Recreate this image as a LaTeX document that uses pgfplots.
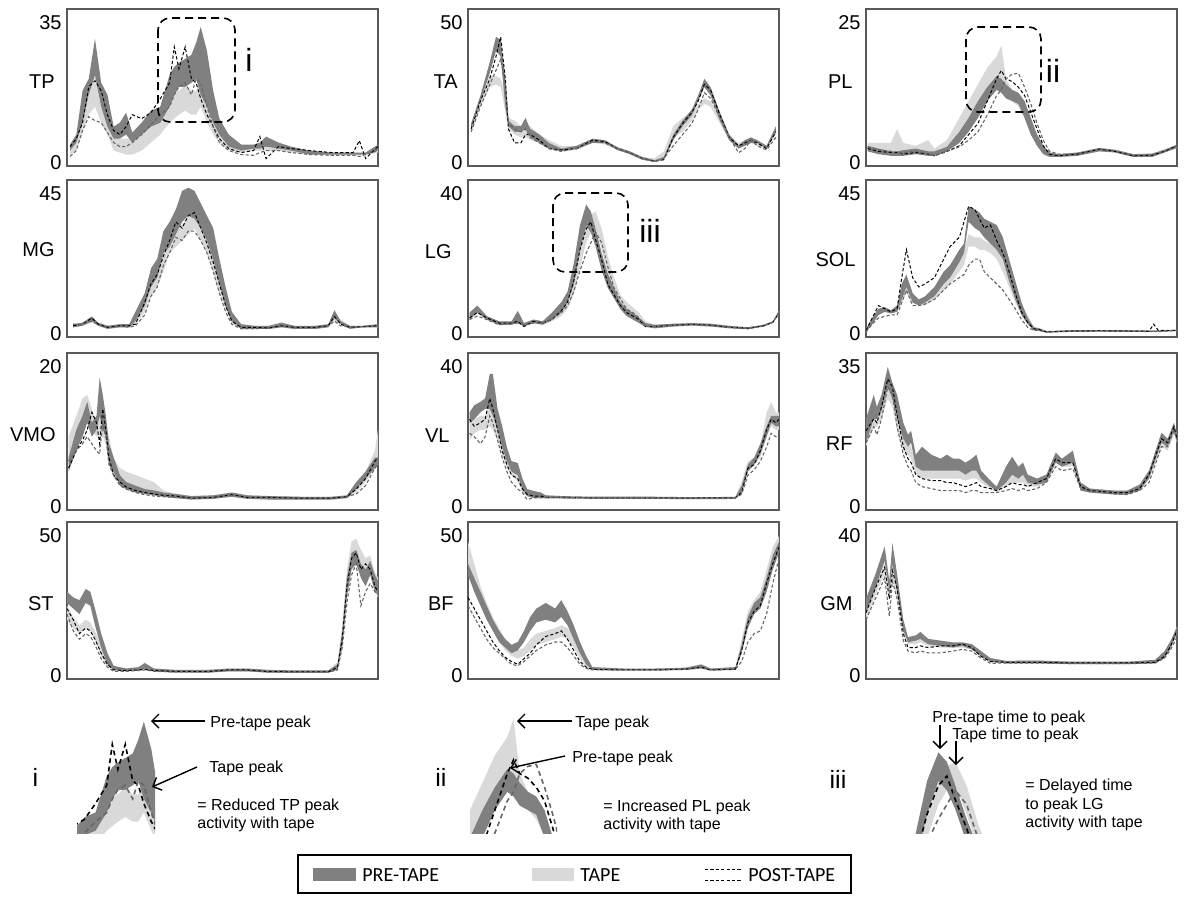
\documentclass[border=0pt]{standalone}
\usepackage{fontspec}
\setmainfont{Liberation Sans}
\newfontfamily\legfont{Carlito}
\usepackage{pgfplots}
\pgfplotsset{compat=1.18}
\usepackage{pgfplotstable}
\usepgfplotslibrary{fillbetween}
\usetikzlibrary{arrows.meta}
\definecolor{precol}{gray}{0.50}
\definecolor{tapecol}{gray}{0.85}

\pgfplotsset{
 panel/.style={scale only axis, width=155.5pt, height=78.5pt, anchor=north west,
   xmin=0, xmax=100, xtick=\empty, major tick length=0pt,
   axis line style={black!65, line width=0.6pt},
   yticklabel style={font=\fontsize{10}{11}\selectfont, inner xsep=2.5pt},
   /pgf/number format/assume math mode=true, clip=true},
 inset/.style={scale only axis, anchor=north west, hide axis, clip=true},
}

\newcommand{\bands}[2][]{%
 \addplot[name path=TL, draw=none] table[x=x,y=tl]{#2};
 \addplot[name path=TH, draw=none] table[x=x,y=th]{#2};
 \addplot[fill=tapecol, draw=none] fill between[of=TL and TH];
 \addplot[name path=PL, draw=none] table[x=x,y=pl]{#2};
 \addplot[name path=PH, draw=none] table[x=x,y=ph]{#2};
 \addplot[fill=precol, draw=none] fill between[of=PL and PH];
 \addplot[black, line width=0.5pt, dash pattern=on 1.6pt off 1.1pt, #1] table[x=x,y=a]{#2};
 \addplot[black!60, line width=0.55pt, dash pattern=on 1.6pt off 1.1pt, #1] table[x=x,y=b]{#2};
}

% columns: x, pre low, pre high, tape low, tape high, post-tape line a, post-tape line b
\pgfplotstableread{
x pl ph tl th a b
1 3 4.5 2 4 4 1.5
3 5 7 3 6 6 3
5 10 18 8 14 10 8
7 17 21 12 17 19 11.5
9 22 31 14 23.5 20.5 10.5
11 14 20 10 15 18 10
13 9 17 7 12 12 7.5
15 6 9 3 7 8 5
17 6 10 2.5 6 7 4
19 7 12.5 2 6 9 4
21 5 7.5 2 6 12 5
24 7 10 3 9 11 7
27 9 13 5 11 12.5 9.5
30 10 14 7 14 16 12
33 14 22 10 17 20 14
34.5 17 24 11 18 29 17
36 19 25 12 18 23.5 19
38 19 26 13 19.5 29 20
40 20 27 12 18 21 17
41.5 21 30 12 18 20 21
43 17 34 14 20 16 20
45 14 28 10 19 12 14
47 10 18 7 12 9 9
49 7 11 5 8 6 5
52 4 7 3 5 3.5 3
56 3 4.5 2.5 4 2.5 2
60 3.5 4.5 3 4.5 3 1.8
62 3.5 5 3 4.5 6.5 2.5
64 4 6.5 3 4.5 1 3
68 3.5 5 3 4 4 3
72 3 4 2.5 3.5 3.5 2.5
78 2 3 2 3 3 2
85 2 2.5 1.8 2.5 2.5 1.8
92 2 2.5 1.8 2.5 2.5 1.8
94 2 2.5 1.8 2.5 5.5 1.5
96 2 2.5 1.8 2.5 1 2
100 3 4.5 2.5 4 4 3
}\TPdata

\pgfplotstableread{
x pl ph tl th a b
1 12 14 11 13 12 11
4 22 24 20 23 22 20
7 32 36 27 31 30 28
9 40 45 28 31 38 33
10.5 38 44 27 30 45 37
12 20 30 18 25 30 28
13 13 15 12 16 12 14
15 11 13 10 15 7 12
17 11 13 9 13 7 11
18.5 12 16 9 12 10 12
20 9 12 8 13 10 9
23 7 10 7 10 8 7
26 5 7 5 8 5 5
30 4 5 4 6 4.5 4
35 5 6 4.5 6 5 5
40 7 8.5 7 8.5 8 7.5
44 7 8 6.5 8 7.5 7
48 4.5 5.5 4.5 5.5 5 5
52 3 4 3 4 3.5 3.5
56 1 2 1 2 1.5 1.5
60 0.2 0.8 0.2 1.5 0.5 0.3
63 1 2 2 4 1 1.5
66 8 10 9 13 9 6
69 13 15 11 16 14 10
72 17 19 15 18 18 14
74 22 24 19 21 22 19
76 27 30 21 23 28 25
78 24 27 20 22 26 23
81 15 18 14 16 17 16
84 8 10 8 10 9 9
87 5 6 5 7 6 3.5
89 6 8 6 8 7 5
91 7 9 7 9 8 8
93 7 8 6 8 7 6
96 5 6 5 6 5 4.5
99 11 13 10 12 11 9
}\TAdata

\pgfplotstableread{
x pl ph tl th a b
0.5 2 3 2.5 3.5 2.5 2.8
4 1.5 2.5 1.8 3.5 2 2.3
8 1.2 2 1.5 3.5 1.8 2
10 1.2 2 1.5 6 1.8 1.5
12 1.2 2.2 1.5 3.5 1.5 1.8
16 1.5 2.5 1.5 3 1.8 2
20 1.2 2 1.5 4 1.5 1.5
22 1.2 2 1.5 2.5 1.2 1.2
26 2 2.8 2.5 4 2 2
30 3.5 5.5 5 8 3 2.8
33 5.5 8 7 11 5 4
36 8 11 10 14 7 5.5
39 11 13.5 13 17 11 8.5
42 13 15.5 15 19 15 12
43.5 12.5 15 13 21 16.5 13
45 11.5 14 12 15 15 15
47 11 13 11 13 14.5 15.8
49 10.5 12.5 10 12 13.5 16
51 8 11 8 10 12 13.5
53 5 8 5 7 9 10.5
55 3 5 3 5 6 7
57 1.5 3 1.5 3 3 4
59 1 1.8 1 1.8 1.5 2
62 1 1.5 1 1.5 1.2 1.5
68 1.2 1.8 1.2 1.8 1.5 1.5
75 2 2.6 2 2.6 2.4 2.4
80 1.8 2.3 1.8 2.3 2 2
86 1 1.5 1 1.5 1.2 1.2
92 1 1.6 1 1.6 1.3 1.3
96 1.8 2.3 1.8 2.3 2 2
100 2.6 3.2 2.6 3.2 3 3
}\PLdata

\pgfplotstableread{
x pl ph tl th a b
2 2 3 2 3 2.5 3
5 2.5 3.5 2.5 3.5 3 3
8 4 5.5 3.5 5 5 4
10 2.5 3.5 2.5 3.5 3 3
13 1.5 2.5 1.5 2.5 2 2
17 2 3 2 3 2.5 2.5
20 2 3 2 3 2.5 2
22 4 7 3 5 3 2.5
25 9 13 7 11 10 6
27 15 21 12 18 16 12
29 18 24 15 20 19 15
31 26 33 20 28 25 22
33 28 36 26 31 30 26
35 32 40 28 34 36 31
37 36 46 30 35 34 30
39 38 47 32 38 38 33
41 37 46 34 40 39 33
43 34 42 30 37 34 30
45 30 38 26 33 29 26
47 24 34 20 27 23 20
49 16 24 13 19 16 13
51 9 15 8 12 9 7
53 4 7 3 6 4 3
56 1.5 3 1.5 3 2 1.5
60 1.5 2.5 1.5 2.5 2 1.5
65 1.5 2.5 1.5 2.5 1.8 1.8
69 2 3.5 2 3.5 2.5 2.5
73 1.5 2.5 1.5 2.5 2 2
80 1.5 2.5 1.5 2.5 2 2
84 2 3 2 3 2.5 2.5
86 5 7.5 4 6 5.5 4
88 3 4 3 4.5 3 2.5
91 1.5 2.5 1.5 2.5 2 2
95 2 2.5 2 2.5 2.2 2.2
100 2 3 2 3 2.5 2.5
}\MGdata

\pgfplotstableread{
x pl ph tl th a b
0.5 4 6 4 6 4.5 4
3 6 8 6 8 6 5
6 4 5 4 5 4.5 4
10 2.5 3.5 2.5 3.5 3 2.5
14 2.5 3.5 2.5 3.5 3 3
16 3 6.5 3 4.5 3.5 3
18 2 3 2 3 2 2.5
21 3 4 3 4 3.5 3
24 2.5 3.5 2.5 3.5 3 3
27 4 6 3.5 5 4 4
30 6 9 5 8 6.5 6
32 9 12 7 11 9 8
34 14 20 11 17 15 12
36 24 31 19 26 24 18
38 31 37 26 32 30 23
39.5 29 35 29 34 32 26
41 25 30 30 35 27 29
43 18 23 24 30 21 26
45 13 17 17 22 14 19
47 10 13 12 16 11 13
49 7 9 8 11 8 10
51 5 7 6 9 6 7
53 4 6 5 7.5 5 6
55 3 4.5 3.5 6 4 4.5
57 2 3 2 3.5 2 2
60 1.5 2.5 1.5 2.5 2 2
66 2 2.8 2 2.8 2.4 2.4
72 2.3 3 2.3 3 2.6 2.6
78 2 2.8 2 2.8 2.4 2.4
84 1.5 2.2 1.5 2.2 1.8 1.8
90 1.2 1.8 1.2 1.8 1.5 1.5
95 2 2.5 2 2.5 2.2 2.2
98 3 3.5 3 3.5 3.2 3.2
100 5.5 6.5 5.5 6.5 6 6
}\LGdata

\pgfplotstableread{
x pl ph tl th a b
0 0.5 1.5 0.5 1.5 1 0.5
2 3 5 3 5 5 3
4 6 8 6 8 9 5
6 7 8.5 7 8.5 8 5.5
8 6.5 7.5 6.5 7.5 7 6
10 7 9 7 9 8 6
11.5 11 16 10 13 18 10
13 15 19 13 16 27 14
15 10 13 10 12 18 9
17 9 11 9 10 15 9
19 10 12 9 11 16 9.5
22 12 15 11 14 18 11
25 16 20 14 18 24 14
27 18 22 16 20 28 16
30 23 27 20 25 31 18
31.5 26 29 22 27 36 19
33 36 41 28 32 41 22
35 34 40 28 31 40 24
36.5 33 39 27 31 37 24
38 31 37 27 30 34 20
40 29 36 26 29 35 18
42 27 35 24 28 30 16
44 24 31 20 25 26 14
46 17 24 15 20 20 11
48 11 17 10 14 13 8
50 6 10 6 9 7 4.5
52 3 5 3 6 3.5 2
54 1 2 1 2 1.5 1
55.5 1 1.8 0.8 1.5 1.3 1
58 0.3 0.8 0.3 0.8 0.5 0.5
65 0.5 1 0.5 1 0.8 0.8
75 0.6 1.1 0.6 1.1 0.9 0.9
85 0.5 1 0.5 1 0.8 0.8
91 0.5 1 0.5 1 0.7 0.6
92.5 0.5 1 0.5 1 3 0.6
94 0.5 1 0.5 1 1 0.6
100 0.8 1.2 0.8 1.2 1 1
}\SOLdata

\pgfplotstableread{
x pl ph tl th a b
0.5 5 7 6 10 5.5 6.5
3 8 11 10 13 8 8
5 10 13 11 15.5 9.5 9
6.5 12 15 12 16 11 10
8 10 12 11 14 13.5 9
9.5 11 13 10 12 12 8
10.5 13 18.5 10 13 9 7.5
11.5 11 16 10 13 14 12
12.5 10 13 9 12 11 10
13.5 6 9 6 10 7 6
15 5 7 4 7 4.5 4.5
17 3 4.5 3.5 5.5 3.5 3
19 2.5 3.5 3 5 2.8 2.5
22 2 3 2.5 4.5 2.3 2
25 1.8 2.5 2 4 2 1.7
28 1.6 2.3 1.8 3.5 1.8 1.5
31 1.4 2 1.5 2.3 1.6 1.4
35 1.2 1.8 1.2 1.8 1.5 1.3
40 1 1.5 1 1.5 1.2 1.2
47 1.1 1.6 1.1 1.6 1.3 1.3
53 1.4 2 1.4 2 1.7 1.7
58 1.1 1.6 1.1 1.6 1.3 1.3
65 1 1.5 1 1.5 1.3 1.3
75 1 1.4 1 1.4 1.2 1.2
85 1 1.4 1 1.4 1.2 1.2
90 1.2 1.6 1.2 1.6 1.4 1.4
93 2.5 3.5 2 3 2.5 1.8
96 4 5 3.5 5 4 3
99 5.5 7 5.5 8 6.5 5.5
100 6 7 6 11 7 6
}\VMOdata

\pgfplotstableread{
x pl ph tl th a b
0.5 24 27 19 25 25 21
2 25 29 21 25 23 20
4 27 30 22 26 24 18
5.5 28 31 22 26 25 20
7 28 38 23 29 31 26
8 26 38 22 29 28 24
9.5 22 28 19 24 22 19
11 17 23 15 20 16 14
12.5 13 17 11 15 12 10
14 10 13 9 12 9 7
16 9 12.5 7 10 8 5
17.5 5 8 4 7 5 4
19 3 5 3 5 3.5 2
21 2.5 4.5 2.5 4 3 2.5
23.5 2.5 4 2.5 3.5 3 2.5
25 2.3 3.2 2.3 3.2 2.6 2.6
30 2.3 3 2.3 3 2.6 2.6
40 2.2 2.8 2.2 2.8 2.5 2.5
50 2.2 2.8 2.2 2.8 2.5 2.5
60 2.2 2.8 2.2 2.8 2.5 2.5
70 2.1 2.7 2.1 2.7 2.4 2.4
80 2.1 2.7 2.1 2.7 2.5 2.4
86 2.2 2.8 2.2 2.8 2.5 2.5
88 4 6 4 7 4 3.5
90 10 12 10 13 11 9
92 12 14 12 14 12 10.5
94 15 18 14 17 16 13
96 20 23 20 27 22 17
97.5 24 26 23 30 25 21
99 23 26 22 27 24 20
100 23 26 22 27 25 21
}\VLdata

\pgfplotstableread{
x pl ph tl th a b
0 16 22 15 20 19 16
2.5 22 28 20 24 22 20
3.5 22 25 20 23 21 18
5 24 28 22 25 25 22
7 30 35 27 31 32 30
8.5 27 31 25 29 30 28
10 22 28 19 24 23 20
12 17 21 14 18 15 13
13.5 15 18 13 16 12 10
14.5 16 19 12 15 11 9
16 10 13 8 11 8 6
18 9 15 7 10 7 5
21 9 13 7 10 6.5 4.5
24 9 12 7 9.5 6.5 4
26 9 13 7 10 6 4
28 9 12 7 9.5 6 4
30 9 12 7 10 5.5 4
32 8 11 6.5 9 5 3.5
34 9 12 7 9.5 5.5 4
35.5 9 13 7 10 6 4
37 7 9 6 8 5 3.5
40 5 6.5 4.5 6 4.5 3.5
42 4 5 3.5 5 4 3.5
45 6 10 5 8 5 4
47 8 12.5 6 9 6 4.5
49 7 10 6 8.5 5.5 4
50.5 8 11 6 9 5.5 4.5
52 6 8 5 7 5 4
55 5.5 7 5 7 6 4.5
58 6 8 6 8 7 6
61 11 13.5 11 13.5 12 10
63 10 12 10 12 11 9
66.5 11 14 10 13 11 9.5
69 4 6 4 6 5 4.5
72 3.5 4.5 3.5 4.5 4 3.8
80 3 4 3 4 3.5 3.2
84 3 4 3 4 3.5 3
88 4 5.5 4 5.5 4.5 4
91 7 9 7 9 8 6
95 16 18.5 15 18 17 15
97 15 17 14 16.5 16 15
99 19 21 18 21 20 19
100 16 18 16 18 17 17
}\RFdata

\pgfplotstableread{
x pl ph tl th a b
0 26 30 20 25 24 22
2 24 28 17 21 20 16
4 22 27 15 18 15 13
6 26 31 17 20 17 15
7.5 25 30 16 19 16 14
9 18 24 13 16 13 11
11 10 15 7 11 8 6
13 4 8 3 6 4 3
15 2 3.5 2 3 2 1.5
19 1.5 2.5 1.5 2.5 1.8 1.5
23 2 3 2 3 2 1.8
25 2.5 4.5 2 3 2.2 2
28 1.5 2.5 1.5 2.5 1.8 1.5
35 1 2 1 2 1.5 1.3
45 1 2 1 2 1.4 1.3
52 1.5 2.5 1.5 2.5 2 1.8
58 1.5 2.5 1.5 2.5 2 1.8
65 1 2 1 2 1.4 1.3
75 1 1.8 1 1.8 1.3 1.2
84 1 1.8 1 1.8 1.3 1.2
87 2 4 2 5 3 2
88.5 10 16 12 18 13 10
90 28 35 30 38 32 26
91.5 38 44 40 48 42 36
93 40 45 44 49 44 40
94.5 35 40 38 45 38 25
96 32 38 35 42 40 30
97.5 36 41 37 43 38 33
99 30 36 30 37 32 30
100 29 34 28 35 30 29
}\STdata

\pgfplotstableread{
x pl ph tl th a b
0 36 40 40 48 28 25
2 30 35 33 40 24 21
4 25 30 27 32 20 17
6 20 25 21 26 16 13
8 16 20 16 21 12 10
10 12 16 12 17 9 8
12 10 13 9 13 6.5 6
14 8 11 7 10 5 4
16 9 12 6 9 4 3.5
18 12 16 7 10 6 5
20 16 21 9 13 8 7
22 19 24 11 15 11 9
25 20 26 12 16 14 11
28 19 24 13 17 15 12
30 21 27 14 18 16 12
32 18 23 13 17 13 10
34 13 18 10 14 9 7
36 8 12 6 9 5 4
38 4 7 3 5 3 2.5
40 2 3 2 3 2.2 2
50 1.8 2.5 1.8 2.5 2 2
60 1.8 2.5 1.8 2.5 2 2
70 2 2.8 2 2.8 2.3 2.3
75 2.5 4 2.5 3.5 3 3
78 1.8 2.5 1.8 2.5 2 2
86 2 3 2 3 2.3 2.3
88 8 11 9 13 9 5
90 17 21 18 23 19 12
92 22 26 23 27 23 15
94 24 28 25 30 25 16
96 30 35 32 38 33 22
98 38 43 40 46 40 33
100 44 48 45 50 46 42
}\BFdata

\pgfplotstableread{
x pl ph tl th a b
0 18 22 16 21 18 16
3 25 29 23 28 25 22
6 33 37 29 34 31 28
7.5 24 27 22 26 22 17
8.5 32 38 28 33 30 27
10 24 29 22 27 25 22
12 13 16 12 15 12 10
13.5 9.5 11 9 10.5 8 7
16 10 11.5 9 10.5 8 6.5
17.5 10.5 12.5 9.5 11 8.5 7
20 9 10.5 8.5 10 8 6.5
24 8.5 10 8 9.5 8.5 6.5
28 8 9.5 8 9 8.5 7
31 8.5 9.5 8 9 9 7.5
34 7.5 9 7.5 8.5 8 7
37 5.5 7 5.5 6.5 5.5 5
40 4 5 4 5 4 3.5
45 3.5 4.2 3.5 4.2 3.8 3.6
55 3.5 4.3 3.5 4.3 3.8 3.6
65 3.3 4 3.3 4 3.6 3.4
75 3.3 4 3.3 4 3.6 3.4
85 3.3 4 3.3 4 3.6 3.4
93 3.5 4.5 3.5 4.5 3.8 3.6
96 5 7 5 7 5.5 5
98 8 10 8 10 8.5 7.5
100 12 14 12 14 13 11
}\GMdata

\begin{document}
\begin{tikzpicture}
\path (0,0) rectangle (600pt,-450pt);

% row 1
\begin{axis}[panel, at={(33.5pt,-4.5pt)}, ymin=-0.875, ymax=38.5, ytick={0,35}]
\bands{\TPdata}
\end{axis}
\begin{axis}[panel, at={(234pt,-4.5pt)}, ymin=-1.25, ymax=55, ytick={0,50}]
\bands{\TAdata}
\end{axis}
\begin{axis}[panel, at={(433pt,-4.5pt)}, ymin=-0.625, ymax=27.5, ytick={0,25}]
\bands{\PLdata}
\end{axis}
% row 2
\begin{axis}[panel, at={(33.5pt,-90pt)}, ymin=-1.125, ymax=49.5, ytick={0,45}]
\bands{\MGdata}
\end{axis}
\begin{axis}[panel, at={(234pt,-90pt)}, ymin=-1, ymax=44, ytick={0,40}]
\bands{\LGdata}
\end{axis}
\begin{axis}[panel, at={(433pt,-90pt)}, ymin=-1.125, ymax=49.5, ytick={0,45}]
\bands{\SOLdata}
\end{axis}
% row 3
\begin{axis}[panel, at={(33.5pt,-176.5pt)}, ymin=-0.5, ymax=22, ytick={0,20}]
\bands{\VMOdata}
\end{axis}
\begin{axis}[panel, at={(234pt,-176.5pt)}, ymin=-1, ymax=44, ytick={0,40}]
\bands{\VLdata}
\end{axis}
\begin{axis}[panel, at={(433pt,-176.5pt)}, ymin=-0.875, ymax=38.5, ytick={0,35}]
\bands{\RFdata}
\end{axis}
% row 4
\begin{axis}[panel, at={(33.5pt,-261pt)}, ymin=-1.25, ymax=55, ytick={0,50}]
\bands{\STdata}
\end{axis}
\begin{axis}[panel, at={(234pt,-261pt)}, ymin=-1.25, ymax=55, ytick={0,50}]
\bands{\BFdata}
\end{axis}
\begin{axis}[panel, at={(433pt,-261pt)}, ymin=-1, ymax=44, ytick={0,40}]
\bands{\GMdata}
\end{axis}

% insets
\begin{axis}[inset, at={(38.5pt,-359pt)}, width=39pt, height=57.5pt, xmin=25, xmax=46, ymin=9.5, ymax=34.8]
\bands[line width=0.8pt, dash pattern=on 2.4pt off 1.8pt]{\TPdata}
\end{axis}
\begin{axis}[inset, at={(235pt,-358pt)}, width=43.5pt, height=58.5pt, xmin=33, xmax=54, ymin=8.5, ymax=21.3]
\bands[line width=0.8pt, dash pattern=on 2.4pt off 1.8pt]{\PLdata}
\end{axis}
\begin{axis}[inset, at={(456.5pt,-375pt)}, width=39.5pt, height=41.5pt, xmin=33.5, xmax=47.5, ymin=20, ymax=37.5]
\bands[line width=0.8pt, dash pattern=on 2.4pt off 1.8pt]{\LGdata}
\end{axis}

\begin{scope}[x=0.5pt,y=-0.5pt]
 \tikzset{lab/.style={anchor=east, inner sep=0pt, font=\fontsize{10}{11}\selectfont},
          dbox/.style={line width=0.8pt, dash pattern=on 4pt off 2.5pt, rounded corners=6pt},
          ann/.style={anchor=base west, inner sep=0pt, font=\fontsize{8}{9.5}\selectfont},
          arr/.style={line width=0.7pt, -{Straight Barb[length=3.5pt,width=7pt]}}}
 % muscle labels
 \node[lab] at (55,82) {TP};
 \node[lab] at (458,82) {TA};
 \node[lab] at (853,82) {PL};
 \node[lab] at (55,250) {MG};
 \node[lab] at (452,252) {LG};
 \node[lab] at (856,260) {SOL};
 \node[lab] at (56,435) {VMO};
 \node[lab] at (450,436) {VL};
 \node[lab] at (853,444) {RF};
 \node[lab] at (54,604) {ST};
 \node[lab] at (454,604) {BF};
 \node[lab] at (853,604) {GM};
 % dashed zoom boxes
 \draw[dbox] (158,18) rectangle (235,122);
 \draw[dbox] (966,27) rectangle (1041,112);
 \draw[dbox] (553,193) rectangle (628,272);
 \node[font=\fontsize{16}{18}\selectfont, inner sep=0pt] at (249,60) {i};
 \node[font=\fontsize{16}{18}\selectfont, inner sep=0pt] at (1053,71) {ii};
 \node[font=\fontsize{16}{18}\selectfont, inner sep=0pt] at (650,231) {iii};
 % inset labels
 \node[font=\fontsize{12.5}{14}\selectfont, inner sep=0pt] at (35.5,777) {i};
 \node[font=\fontsize{12.5}{14}\selectfont, inner sep=0pt] at (441,777) {ii};
 \node[font=\fontsize{12.5}{14}\selectfont, inner sep=0pt] at (838,779) {iii};
 % annotations i
 \draw[arr] (205,721) -- (151,721);
 \node[ann] at (210,727) {Pre-tape peak};
 \draw[arr] (197,767) -- (152,787);
 \node[ann] at (209,772) {Tape peak};
 \node[ann] at (197,810) {= Reduced TP peak};
 \node[ann] at (197,828) {activity with tape};
 % annotations ii
 \draw[arr] (572,721) -- (517,721);
 \node[ann] at (575,727) {Tape peak};
 \draw[arr] (565,756) -- (510,768);
 \node[ann] at (572,762) {Pre-tape peak};
 \node[ann] at (603,811) {= Increased PL peak};
 \node[ann] at (603,829) {activity with tape};
 % annotations iii
 \node[ann] at (932,722) {Pre-tape time to peak};
 \node[ann] at (952,739) {Tape time to peak};
 \draw[arr] (940,725) -- (940,749);
 \draw[arr] (956,741) -- (956,765);
 \node[ann] at (1025,790) {= Delayed time};
 \node[ann] at (1025,809) {to peak LG};
 \node[ann] at (1025,827) {activity with tape};
 % legend
 \draw[line width=0.9pt] (298,855) rectangle (851,893);
 \fill[precol] (313,868) rectangle (356,881);
 \node[anchor=west, inner sep=0pt, font=\legfont\fontsize{10}{12}\selectfont] at (362,875) {PRE-TAPE};
 \fill[tapecol] (532,868) rectangle (574,881);
 \node[anchor=west, inner sep=0pt, font=\legfont\fontsize{10}{12}\selectfont] at (580,875) {TAPE};
 \draw[line width=0.5pt, dash pattern=on 1.6pt off 1.1pt] (705,869) -- (742,869);
 \draw[line width=0.5pt, dash pattern=on 1.6pt off 1.1pt] (705,880) -- (742,880);
 \node[anchor=west, inner sep=0pt, font=\legfont\fontsize{10}{12}\selectfont] at (748,875) {POST-TAPE};
\end{scope}
\pgfresetboundingbox
\path[use as bounding box] (0,0) rectangle (600pt,-450pt);
\end{tikzpicture}
\end{document}
